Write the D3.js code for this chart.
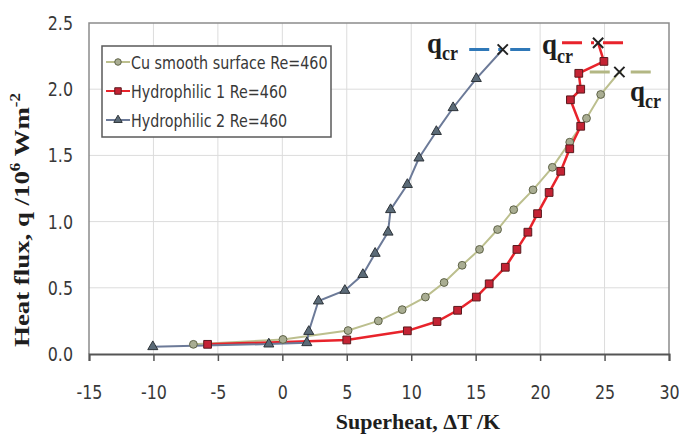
<!DOCTYPE html>
<html lang="en">
<head>
    <meta charset="UTF-8">
    <title>Heat flux vs superheat - D3.js v7</title>
    <script src="https://d3js.org/d3.v7.min.js"></script>
    <style>
        body {
            margin: 0;
            background: #fff;
        }

        .tick-label {
            font-family: "Liberation Sans Narrow", "DejaVu Sans Condensed", sans-serif;
            font-size: 19px;
            fill: #383838;
        }

        .legend-label {
            font-family: "Liberation Sans Narrow", "DejaVu Sans Condensed", sans-serif;
            font-size: 18.5px;
            fill: #383838;
        }

        .axis-title,
        .qcr {
            font-family: "Liberation Serif", "Times New Roman", serif;
            font-weight: bold;
            fill: #1e1e1e;
        }

        .grid line {
            stroke: #dcdcdc;
            stroke-width: 1;
        }
    </style>
</head>
<body>
    <div id="chart"></div>

    <script>
        // Data: [superheat K, heat flux MW/m2]
        const cuSmooth = [
            [-6.9, 0.073], [0.05, 0.11], [5.1, 0.177], [7.45, 0.25], [9.3, 0.335],
            [11.1, 0.43], [12.55, 0.54], [13.95, 0.67], [15.3, 0.79], [16.7, 0.94],
            [17.95, 1.09], [19.45, 1.24], [20.95, 1.41], [22.3, 1.60], [23.6, 1.78],
            [24.7, 1.96]
        ];
        const hydrophilic1 = [
            [-5.8, 0.073], [5.0, 0.106], [9.7, 0.175], [12.0, 0.245], [13.6, 0.33],
            [15.05, 0.43], [16.05, 0.53], [17.3, 0.655], [18.2, 0.79], [19.05, 0.92],
            [19.8, 1.06], [20.7, 1.22], [21.6, 1.38], [22.3, 1.55], [23.15, 1.72],
            [22.35, 1.92], [23.15, 2.0], [23.0, 2.12], [24.95, 2.21]
        ];
        const hydrophilic2 = [
            [-10.05, 0.055], [-1.05, 0.075], [1.9, 0.085], [2.05, 0.17], [2.8, 0.40],
            [4.85, 0.48], [6.25, 0.60], [7.2, 0.76], [8.2, 0.92], [8.4, 1.09],
            [9.7, 1.28], [10.6, 1.48], [11.95, 1.68], [13.25, 1.86], [15.05, 2.08]
        ];

        // critical heat flux points and the extent of their dashed marker lines
        const critPoints = [[26.15, 2.13], [24.5, 2.35], [17.1, 2.30]];
        const critSpans = [[23.85, 28.65], [21.7, 26.6], [14.5, 19.4]];

        const seriesNames = ["Cu smooth surface Re=460", "Hydrophilic 1 Re=460", "Hydrophilic 2 Re=460"];
        const xTicks = [-15, -10, -5, 0, 5, 10, 15, 20, 25, 30];
        const yTicks = [0, 0.5, 1.0, 1.5, 2.0, 2.5];

        const totalWidth = 679, totalHeight = 438;
        const margin = { top: 23, right: 10, bottom: 84, left: 89 },
            width = 669 - margin.left,
            height = 354 - margin.top;

        const styles = [
            { line: "#bcbf8e", fill: "#a9ad92", stroke: "#5f6348", symbol: d3.symbolCircle, size: 48, dash: "#b3b784" },
            { line: "#e8232b", fill: "#c42334", stroke: "#5a1a1e", symbol: d3.symbolSquare, size: 60, dash: "#e8232b" },
            { line: "#6c7a98", fill: "#5b6b78", stroke: "#2d3338", symbol: d3.symbolTriangle, size: 44, dash: "#2f78b8" }
        ];
        const data = [cuSmooth, hydrophilic1, hydrophilic2];

        const svg = d3.select("#chart")
            .append("svg")
            .attr("width", totalWidth)
            .attr("height", totalHeight);

        const chart = svg.append("g")
            .attr("transform", `translate(${margin.left},${margin.top})`);

        const x = d3.scaleLinear().domain([-15, 30]).range([0, width]);
        const y = d3.scaleLinear().domain([0, 2.5]).range([height, 0]);

        // grid
        const grid = chart.append("g").attr("class", "grid");
        grid.selectAll(".gx").data(xTicks.slice(1, -1)).join("line")
            .attr("x1", d => x(d)).attr("x2", d => x(d))
            .attr("y1", 0).attr("y2", height);
        grid.selectAll(".gy").data(yTicks.slice(1, -1)).join("line")
            .attr("class", "gy")
            .attr("x1", 0).attr("x2", width)
            .attr("y1", d => y(d)).attr("y2", d => y(d));

        // frame
        chart.append("path")
            .attr("d", `M0,${height}V0H${width}V${height}`)
            .attr("fill", "none")
            .attr("stroke", "#8c8c8c")
            .attr("stroke-width", 1.5);

        // x axis (plain hyphen minus like the original)
        const xAxis = chart.append("g")
            .attr("transform", `translate(0,${height})`)
            .call(d3.axisBottom(x).tickValues(xTicks).tickSize(7).tickFormat(d => String(d)));
        xAxis.select(".domain").attr("stroke", "#555").attr("stroke-width", 2);
        xAxis.selectAll(".tick line").attr("stroke", "#555").attr("stroke-width", 1.5);
        xAxis.selectAll(".tick text")
            .attr("class", "tick-label")
            .attr("font-family", null).attr("font-size", null).attr("fill", null)
            .attr("dy", null)
            .attr("y", null)
            .attr("transform", "translate(0,45) scale(0.93,1)");

        // y axis labels
        chart.append("g").selectAll("text").data(yTicks).join("text")
            .attr("class", "tick-label")
            .attr("text-anchor", "end")
            .attr("transform", d => `translate(-16,${y(d) + 7}) scale(0.93,1)`)
            .text(d => d.toFixed(1));

        // series
        const lineGen = d3.line().x(d => x(d[0])).y(d => y(d[1]));

        data.forEach((series, i) => {
            const st = styles[i];
            chart.append("path")
                .datum(series.concat([critPoints[i]]))
                .attr("fill", "none")
                .attr("stroke", st.line)
                .attr("stroke-width", i === 1 ? 2.5 : 2)
                .attr("d", lineGen);
        });

        // dashed critical lines, X markers
        critSpans.forEach((s, i) => {
            chart.append("line")
                .attr("x1", x(s[0])).attr("x2", x(s[1]))
                .attr("y1", y(critPoints[i][1])).attr("y2", y(critPoints[i][1]))
                .attr("stroke", styles[i].dash)
                .attr("stroke-width", 3)
                .attr("stroke-dasharray", "20,9,3,9");
        });

        data.forEach((series, i) => {
            const st = styles[i];
            chart.append("g").selectAll("path").data(series).join("path")
                .attr("transform", d => `translate(${x(d[0])},${y(d[1])})`)
                .attr("d", d3.symbol(st.symbol, st.size))
                .attr("fill", st.fill)
                .attr("stroke", st.stroke)
                .attr("stroke-width", 1);
        });

        chart.append("g").selectAll("path").data(critPoints).join("path")
            .attr("transform", d => `translate(${x(d[0])},${y(d[1])})`)
            .attr("d", d3.symbol(d3.symbolTimes, 70))
            .attr("fill", "none")
            .attr("stroke", "#222")
            .attr("stroke-width", 2);

        // q_cr labels
        const qcrPos = [[630, 101, 108], [542, 54, 63], [427, 53, 60]];
        qcrPos.forEach(p => {
            svg.append("text")
                .attr("class", "qcr")
                .attr("x", p[0]).attr("y", p[1])
                .attr("font-size", 29)
                .attr("textLength", 15)
                .attr("lengthAdjust", "spacingAndGlyphs")
                .text("q");
            svg.append("text")
                .attr("class", "qcr")
                .attr("x", p[0] + 15).attr("y", p[2])
                .attr("font-size", 22)
                .attr("textLength", 16)
                .attr("lengthAdjust", "spacingAndGlyphs")
                .text("cr");
        });

        // legend
        const legend = svg.append("g").attr("transform", "translate(102,46)");
        legend.append("rect")
            .attr("width", 229).attr("height", 91)
            .attr("fill", "#fff")
            .attr("stroke", "#5a5a5a")
            .attr("stroke-width", 1.5);
        seriesNames.forEach((name, i) => {
            const st = styles[i];
            const row = legend.append("g").attr("transform", `translate(0,${16 + i * 29})`);
            row.append("line")
                .attr("x1", 4).attr("x2", 28)
                .attr("stroke", st.line).attr("stroke-width", 2);
            row.append("path")
                .attr("transform", "translate(16,0)")
                .attr("d", d3.symbol(st.symbol, st.size * 0.7))
                .attr("fill", st.fill).attr("stroke", st.stroke);
            row.append("text")
                .attr("class", "legend-label")
                .attr("transform", "translate(29,7) scale(0.86,1)")
                .text(name);
        });

        // axis titles
        svg.append("text")
            .attr("class", "axis-title")
            .attr("font-size", 22)
            .attr("text-anchor", "middle")
            .attr("x", 418).attr("y", 429)
            .text("Superheat, \u0394T /K");

        const yTitle = svg.append("text")
            .attr("class", "axis-title")
            .attr("font-size", 22)
            .attr("text-anchor", "middle")
            .attr("transform", "translate(29,220) rotate(-90) scale(1.22,1)");
        yTitle.append("tspan").text("Heat flux, q /10");
        yTitle.append("tspan").attr("font-size", 14).attr("dy", -9).text("6");
        yTitle.append("tspan").attr("dy", 9).text(" Wm");
        yTitle.append("tspan").attr("font-size", 14).attr("dy", -9).text("-2");
    </script>
</body>
</html>
